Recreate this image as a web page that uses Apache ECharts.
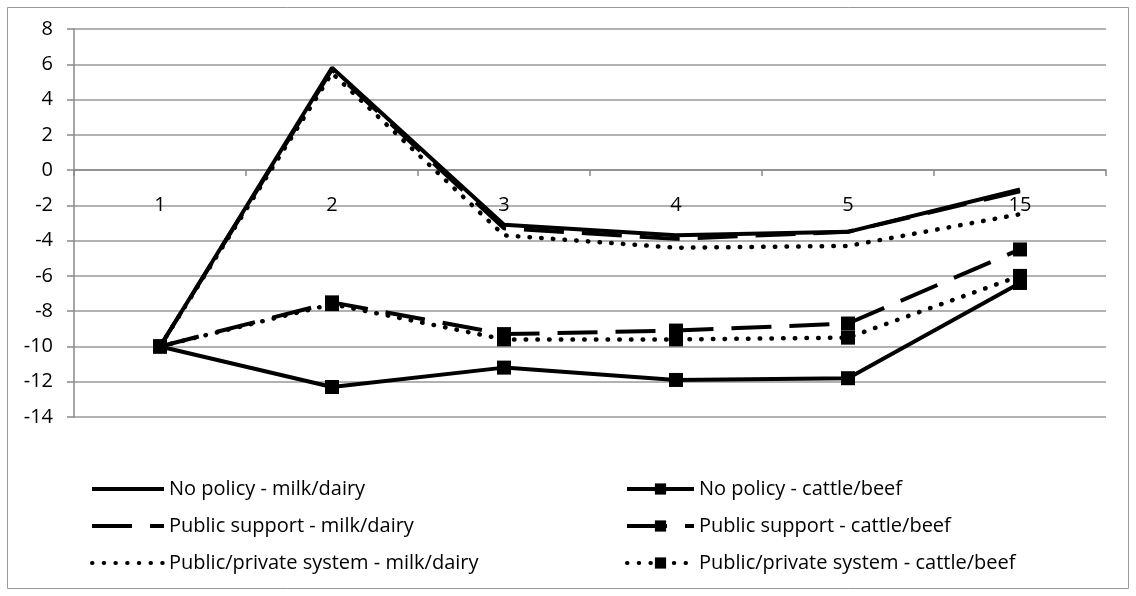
<!DOCTYPE html>
<html><head><meta charset="utf-8">
<script src="https://cdn.jsdelivr.net/npm/echarts@6/dist/echarts.min.js"></script>
<style>html,body{margin:0;padding:0;background:#fff}#c{width:1136px;height:596px}</style>
</head><body><div id="c"></div>
<script>
const categories = ['1','2','3','4','5','15'];
const noPolicyMilk = [-10, 5.8, -3.1, -3.7, -3.5, -1.1];
const publicSupportMilk = [-10, 5.7, -3.3, -3.9, -3.5, -1.2];
const publicPrivateMilk = [-10, 5.5, -3.7, -4.4, -4.3, -2.5];
const noPolicyCattle = [-10, -12.3, -11.2, -11.9, -11.8, -6.4];
const publicSupportCattle = [-10, -7.5, -9.3, -9.1, -8.7, -4.5];
const publicPrivateCattle = [-10, -7.6, -9.6, -9.6, -9.5, -6.0];
const yTicks = {min: -14, max: 8, interval: 2};

const FONT = 'Open Sans';
const FS = 20;
const GRID = {left:74, right:30, top:29, bottom:179};
const H = 596 - GRID.top - GRID.bottom;
const zeroY = GRID.top + (yTicks.max - 0) / (yTicks.max - yTicks.min) * H;
const xOffset = -(596 - GRID.bottom - zeroY);

const solid = {color:'#000', width:4, type:'solid'};
const dashed = {color:'#000', width:4, type:[40,18], cap:'butt'};
const dotted = {color:'#000', width:4.5, type:[0.5,11.2], cap:'round'};
const NONE = 'path://M0,0L1,1';
function s(name, data, ls, marker){
  return {name, type:'line', data, symbol: marker?'rect':NONE, symbolSize:14,
    showSymbol: !!marker, lineStyle: ls,
    itemStyle: marker ? {color:'#000'} : {color:'#000', borderWidth:0},
    z: 3, animation:false, emphasis:{disabled:true}};
}
const legendCommon = {orient:'vertical', top:479, padding:0, itemHeight:14, itemGap:17,
  textStyle:{fontSize:FS, color:'#000', fontFamily:FONT}, selectedMode:false,
  lineStyle:{width:4}};
const chart = echarts.init(document.getElementById('c'));
chart.setOption({
  animation:false,
  textStyle:{fontFamily:FONT},
  grid:GRID,
  xAxis:{type:'category', data:categories, boundaryGap:true, offset:xOffset,
    axisLine:{onZero:false, lineStyle:{color:'#888', width:1.5}},
    axisTick:{show:true, interval:0, length:6, lineStyle:{color:'#888', width:1.5}},
    axisLabel:{color:'#000', fontSize:FS, fontFamily:FONT, margin:25},
    splitLine:{show:false}},
  yAxis:{type:'value', min:yTicks.min, max:yTicks.max, interval:yTicks.interval,
    axisLine:{show:true, lineStyle:{color:'#888', width:1.5}},
    axisTick:{show:true, length:7, lineStyle:{color:'#888', width:1.5}},
    axisLabel:{color:'#000', fontSize:FS, fontFamily:FONT, margin:21},
    splitLine:{lineStyle:{color:'#999', width:1.5}}},
  legend:[
    Object.assign({left:90, itemWidth:72,
     data:['No policy - milk/dairy','Public support - milk/dairy','Public/private system - milk/dairy']}, legendCommon),
    Object.assign({left:625, itemWidth:67,
     data:['No policy - cattle/beef','Public support - cattle/beef','Public/private system - cattle/beef']}, legendCommon)
  ],
  graphic:[{type:'rect', shape:{x:7.5, y:7.5, width:1121, height:581}, style:{fill:'none', stroke:'#999', lineWidth:1}, silent:true}],
  series:[
    s('No policy - milk/dairy', noPolicyMilk, solid, false),
    s('Public support - milk/dairy', publicSupportMilk, dashed, false),
    s('Public/private system - milk/dairy', publicPrivateMilk, dotted, false),
    s('No policy - cattle/beef', noPolicyCattle, solid, true),
    s('Public support - cattle/beef', publicSupportCattle, dashed, true),
    s('Public/private system - cattle/beef', publicPrivateCattle, dotted, true)
  ]
});
</script></body></html>
